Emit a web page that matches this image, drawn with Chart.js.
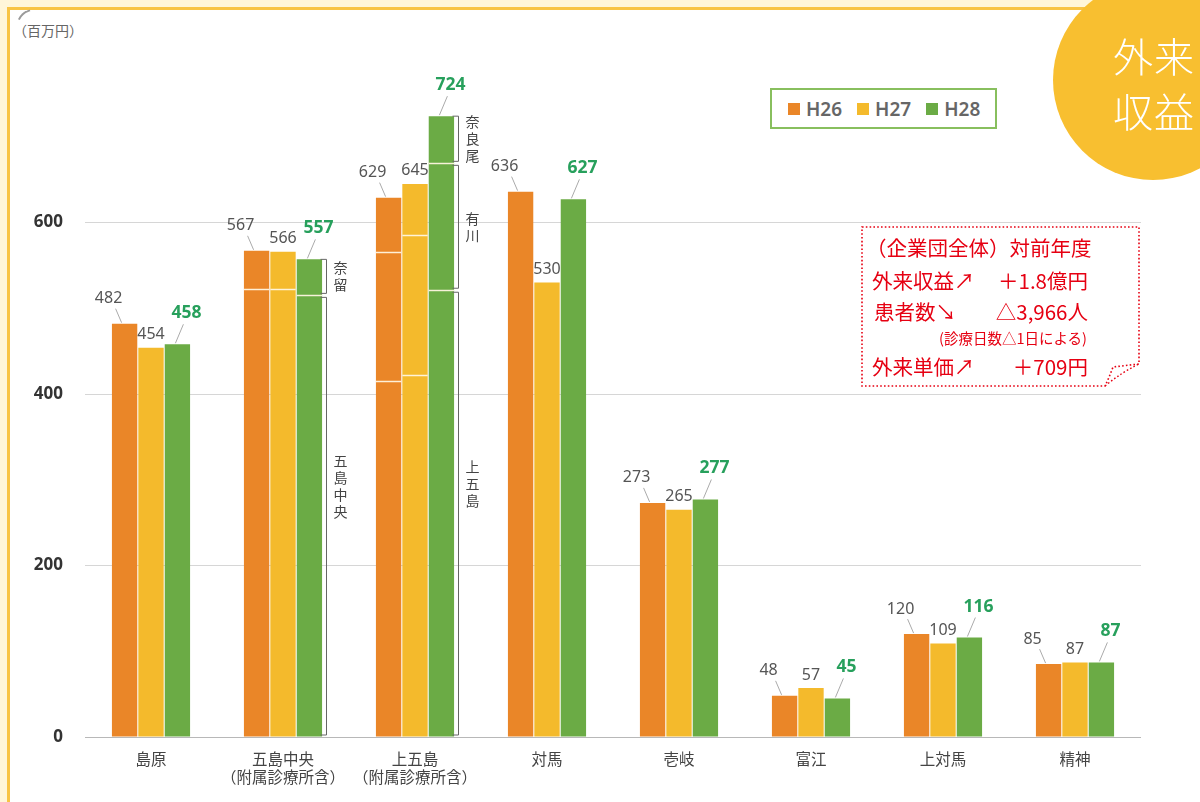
<!DOCTYPE html>
<html lang="ja">
<head>
<meta charset="utf-8">
<title>外来収益</title>
<script src="https://cdn.jsdelivr.net/npm/chart.js@4.4.1/dist/chart.umd.min.js"></script>
<style>
    html, body {
        margin: 0;
        padding: 0;
        width: 1200px;
        height: 802px;
        overflow: hidden;
        background: #fff6d9;
        font-family: 'Noto Sans CJK JP', 'Noto Sans', sans-serif;
    }
    #panel {
        position: absolute;
        left: 7px;
        top: 7px;
        width: 1220px;
        height: 820px;
        background: #fff;
        border: 3px solid #f8c445;
    }
    #corner {
        position: absolute;
        left: 14px;
        top: 12px;
        width: 18px;
        height: 18px;
        border-top: 2px solid #9a9a9a;
        border-left: 2px solid transparent;
        border-top-left-radius: 18px;
        transform: rotate(-20deg);
    }
    #unit {
        position: absolute;
        left: 13px;
        top: 20px;
        font-size: 14px;
        color: #666;
    }
    #wrap {
        position: absolute;
        left: 0;
        top: 0;
        width: 1200px;
        height: 802px;
    }
    #badge {
        position: absolute;
        left: 1053px;
        top: -20px;
        width: 200px;
        height: 200px;
        border-radius: 50%;
        background: #f8bf30;
    }
    #badge div {
        position: absolute;
        left: 60px;
        color: #fff;
        font-size: 40px;
        font-weight: 300;
        line-height: 40px;
        letter-spacing: 1px;
    }
    #legend {
        position: absolute;
        left: 770px;
        top: 88px;
        width: 207px;
        height: 37px;
        border: 2px solid #88bf5e;
        background: #fff;
        display: flex;
        align-items: center;
        padding-left: 16px;
        box-sizing: content-box;
    }
    #legend span.item {
        display: flex;
        align-items: center;
        margin-right: 15px;
        font-family: 'Noto Sans', sans-serif;
        font-size: 19px;
        font-weight: 600;
        color: #666;
    }
    #legend i {
        display: inline-block;
        width: 12px;
        height: 12px;
        margin-right: 6px;
    }
    #note {
        position: absolute;
        left: 0;
        top: 0;
        width: 1200px;
        height: 802px;
        pointer-events: none;
    }
    .row {
        position: absolute;
        color: #e60012;
        font-size: 20.5px;
        line-height: 24px;
        white-space: pre;
    }
    .small {
        font-size: 14.5px;
        line-height: 16px;
    }
</style>
</head>
<body>
<div id="panel"></div>
<div id="corner"></div>
<div id="unit">（百万円）</div>
<div id="wrap"><canvas id="revenueChart"></canvas></div>

<svg id="note" width="1200" height="802">
    <path d="M862,227 H1139 V364 L1113,367 Q1109,378 1105,386 H862 Z"
          fill="#fff" stroke="#e60012" stroke-width="1.6" stroke-dasharray="1.6 2.2"/>
    <path d="M1105,386 Q1122,372 1139,364" fill="none" stroke="#e60012" stroke-width="1.4" stroke-dasharray="1.6 2.2"/>
</svg>
<div class="row" style="left:866px; top:235px;">（企業団全体）対前年度</div>
<div class="row" style="left:872px; top:268px;">外来収益↗</div>
<div class="row" style="left:970px; top:268px; width:118px; text-align:right;">＋1.8億円</div>
<div class="row" style="left:874px; top:299px;">患者数↘</div>
<div class="row" style="left:970px; top:299px; width:118px; text-align:right;">△3,966人</div>
<div class="row small" style="left:900px; top:330px; width:187px; text-align:right;">(診療日数△1日による)</div>
<div class="row" style="left:872px; top:354px;">外来単価↗</div>
<div class="row" style="left:970px; top:354px; width:118px; text-align:right;">＋709円</div>

<div id="legend"></div>

<div id="badge">
    <div style="top:55px;">外来</div>
    <div style="top:110px;">収益</div>
</div>

<script>
// 病院（カテゴリ）
const categories = [
    '島原',
    ['五島中央', '（附属診療所含）'],
    ['上五島', '（附属診療所含）'],
    '対馬',
    '壱岐',
    '富江',
    '上対馬',
    '精神'
];

const years = ['H26', 'H27', 'H28'];

// 外来収益（百万円）
const h26 = [482, 567, 629, 636, 273, 48, 120, 85];
const h27 = [454, 566, 645, 530, 265, 57, 109, 87];
const h28 = [458, 557, 724, 627, 277, 45, 116, 87];

// 棒の中の区切り（累計値、下から）
const splitsH26 = [[], [523], [415, 566], [], [], [], [], []];
const splitsH27 = [[], [523], [422, 585], [], [], [], [], []];
const splitsH28 = [[], [515], [521, 669], [], [], [], [], []];

// 括弧の名前（下から）
const bracketNames = [null, ['五島中央', '奈留'], ['上五島', '有川', '奈良尾'], null, null, null, null, null];

const yTicks = [0, 200, 400, 600];

const colors = ['#ea8628', '#f4ba2c', '#6bab45'];
const allSplits = [splitsH26, splitsH27, splitsH28];
const cjk = "'Noto Sans CJK JP', 'Noto Sans', sans-serif";

// 棒の区切り線・括弧・数値ラベル
const decorPlugin = {
    id: 'decor',
    afterDatasetsDraw(chart) {
        const ctx = chart.ctx;
        const y = chart.scales.y;

        // 区切り線
        chart.data.datasets.forEach((ds, di) => {
            const meta = chart.getDatasetMeta(di);
            meta.data.forEach((bar, i) => {
                allSplits[di][i].forEach(v => {
                    const py = Math.round(y.getPixelForValue(v)) + 0.5;
                    ctx.save();
                    ctx.strokeStyle = 'rgba(255, 245, 225, 0.95)';
                    ctx.lineWidth = 1.5;
                    ctx.beginPath();
                    ctx.moveTo(bar.x - bar.width / 2, py);
                    ctx.lineTo(bar.x + bar.width / 2, py);
                    ctx.stroke();
                    ctx.restore();
                });
            });
        });

        // 括弧
        const green = chart.getDatasetMeta(2);
        bracketNames.forEach((names, i) => {
            if (!names) return;
            const bar = green.data[i];
            const bx = Math.round(bar.x + bar.width / 2) + 4.5;
            const bounds = [0, ...splitsH28[i], h28[i]];
            names.forEach((name, j) => {
                const yb = y.getPixelForValue(bounds[j]) - 2;
                const yt = y.getPixelForValue(bounds[j + 1]) + (j === names.length - 1 ? 0 : 2);
                ctx.save();
                ctx.strokeStyle = '#666';
                ctx.lineWidth = 1;
                ctx.beginPath();
                ctx.moveTo(bx - 6, yt);
                ctx.lineTo(bx, yt);
                ctx.lineTo(bx, yb);
                ctx.lineTo(bx - 6, yb);
                ctx.stroke();

                // 縦書きラベル
                let mid = (yt + yb) / 2;
                if (yb - yt > 300) mid -= 30;
                const step = 17;
                const chars = Array.from(name);
                let cy = mid - (chars.length - 1) * step / 2;
                ctx.fillStyle = '#444';
                ctx.font = '14px ' + cjk;
                ctx.textAlign = 'center';
                ctx.textBaseline = 'middle';
                chars.forEach(c => {
                    ctx.fillText(c, bx + 14, cy);
                    cy += step;
                });
                ctx.restore();
            });
        });

        // 数値ラベル
        const offsets = [
            { dx: -16, dy: -25, leader: true },
            { dx: 0, dy: -13, leader: false },
            { dx: 9, dy: -31, leader: true }
        ];
        chart.data.datasets.forEach((ds, di) => {
            const meta = chart.getDatasetMeta(di);
            const o = offsets[di];
            meta.data.forEach((bar, i) => {
                const lx = bar.x + o.dx;
                const ly = bar.y + o.dy;
                ctx.save();
                if (o.leader) {
                    ctx.strokeStyle = '#aaa';
                    ctx.lineWidth = 1;
                    ctx.beginPath();
                    if (di === 0) {
                        ctx.moveTo(lx + 7, ly + 10);
                        ctx.lineTo(bar.x - 3, bar.y - 1);
                    } else {
                        ctx.moveTo(lx - 3, ly + 11);
                        ctx.lineTo(bar.x - 2, bar.y - 1);
                    }
                    ctx.stroke();
                }
                ctx.textAlign = 'center';
                ctx.textBaseline = 'middle';
                if (di === 2) {
                    ctx.fillStyle = '#27a05c';
                    ctx.font = 'bold 17.5px "Noto Sans", sans-serif';
                } else {
                    ctx.fillStyle = '#555';
                    ctx.font = '16px "Noto Sans", sans-serif';
                }
                ctx.fillText(ds.data[i], lx, ly);
                ctx.restore();
            });
        });
    }
};

const ctx = document.getElementById('revenueChart').getContext('2d');
const revenueChart = new Chart(ctx, {
    type: 'bar',
    data: {
        labels: categories,
        datasets: [h26, h27, h28].map((values, i) => ({
            label: years[i],
            data: values,
            backgroundColor: colors[i],
            borderWidth: 0,
            categoryPercentage: 0.6,
            barPercentage: 0.96
        }))
    },
    options: {
        responsive: true,
        maintainAspectRatio: false,
        animation: false,
        devicePixelRatio: 1,
        layout: {
            padding: { left: 0, right: 59, top: 51, bottom: 0 }
        },
        plugins: {
            legend: { display: false },
            tooltip: { enabled: false }
        },
        scales: {
            x: {
                grid: { display: false, drawTicks: false },
                border: { display: false },
                ticks: {
                    padding: 13,
                    color: '#444',
                    font: { family: cjk, size: 15.5, lineHeight: 1.16 },
                    maxRotation: 0,
                    autoSkip: false
                },
                afterFit(scale) { scale.height = 65; }
            },
            y: {
                min: 0,
                max: 800,
                grid: {
                    drawTicks: false,
                    color: ctx => {
                        const v = ctx.tick ? ctx.tick.value : null;
                        if (v === 0) return '#b8b8b8';
                        return yTicks.includes(v) ? '#d6d6d6' : 'rgba(0,0,0,0)';
                    }
                },
                border: { display: false },
                afterBuildTicks(scale) {
                    scale.ticks = [...yTicks, 800].map(v => ({ value: v }));
                },
                ticks: {
                    padding: 22,
                    color: '#333',
                    font: { family: "'Noto Sans', sans-serif", size: 17, weight: 'bold' },
                    callback: v => yTicks.includes(v) ? v : ''
                },
                afterFit(scale) { scale.width = 85; }
            }
        }
    },
    plugins: [decorPlugin]
});

// 凡例
const legend = document.getElementById('legend');
revenueChart.data.datasets.forEach(ds => {
    const item = document.createElement('span');
    item.className = 'item';
    item.innerHTML = `<i style="background:${ds.backgroundColor}"></i>${ds.label}`;
    legend.appendChild(item);
});
</script>
</body>
</html>
